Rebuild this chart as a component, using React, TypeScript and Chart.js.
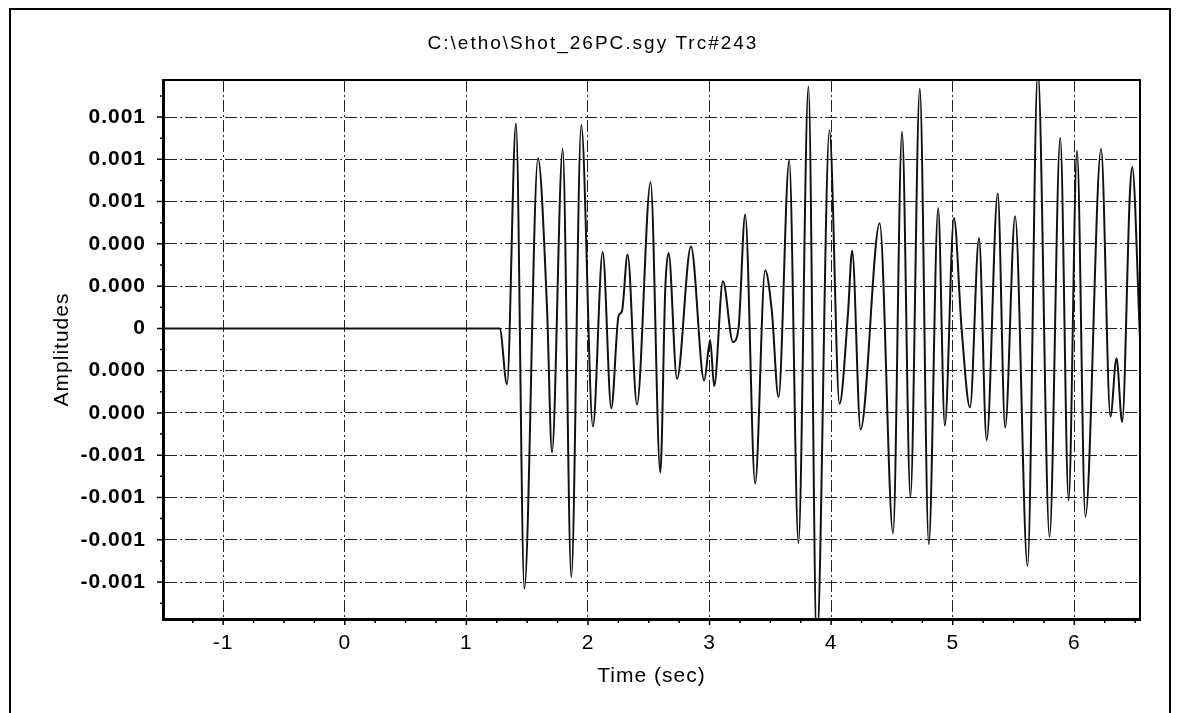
import React, { useEffect, useRef } from 'react';
import { Chart, registerables } from 'chart.js';

Chart.register(...registerables);

const chartTitle = 'C:\\etho\\Shot_26PC.sgy Trc#243';
const xAxisTitle = 'Time (sec)';
const yAxisTitle = 'Amplitudes';

const timeSec = [
  -1.495, 1.274, 1.334, 1.408, 1.477, 1.589, 1.663, 1.704, 1.792, 1.863,
  1.945, 2.041, 2.121, 2.192, 2.252, 2.279, 2.326, 2.403, 2.515, 2.595,
  2.636, 2.663, 2.732, 2.847, 2.956, 3.005, 3.038, 3.11, 3.192, 3.238,
  3.293, 3.375, 3.457, 3.512, 3.567, 3.655, 3.731, 3.813, 3.882, 3.986,
  4.069, 4.138, 4.173, 4.242, 4.399, 4.509, 4.583, 4.652, 4.729, 4.803,
  4.88, 4.935, 5.01, 5.073, 5.142, 5.216, 5.279, 5.37, 5.431, 5.513,
  5.615, 5.7, 5.796, 5.884, 5.953, 6.022, 6.091, 6.22, 6.297, 6.347,
  6.393, 6.457, 6.476, 6.54,
];

const amplitudes = [
  0, 0, -0.000264, 0.00097, -0.00123, 0.000805, 0.0001, -0.000586, 0.000849, -0.001177,
  0.000962, -0.000464, 0.000362, -0.000377, 0.00006, 0.00008, 0.00035, -0.00036, 0.000692, -0.000682,
  0.00019, 0.000357, -0.000238, 0.000388, -0.000247, -0.000056, -0.000273, 0.000223, -0.000064, 0.0,
  0.000539, -0.000734, 0.000275, 0.000083, -0.000325, 0.000795, -0.001015, 0.001143, -0.0015, 0.000936,
  -0.000357, 0.000066, 0.000367, -0.000478, 0.000497, -0.000969, 0.000931, -0.000797, 0.001134, -0.001021,
  0.000569, -0.00046, 0.000522, -0.000003, -0.000374, 0.000428, -0.000529, 0.000638, -0.000469, 0.000531,
  -0.001124, 0.00122, -0.000986, 0.000902, -0.000814, 0.000841, -0.000891, 0.00085, -0.000417, -0.000141,
  -0.000443, 0.00064, 0.000764, -0.00005,
];

const xTickValues = [-1, 0, 1, 2, 3, 4, 5, 6];
const xTickLabels = ['-1', '0', '1', '2', '3', '4', '5', '6'];
const yTickValues = [0.001, 0.0008, 0.0006, 0.0004, 0.0002, 0, -0.0002, -0.0004, -0.0006, -0.0008, -0.001, -0.0012];
const yTickLabels = ['0.001', '0.001', '0.001', '0.000', '0.000', '0', '0.000', '0.000', '-0.001', '-0.001', '-0.001', '-0.001'];

const xMin = -1.495;
const xMax = 6.54;
const yMin = -0.001375;
const yMax = 0.0011754;

const FONT = '"Liberation Sans", Arial, sans-serif';

const framePlugin = {
  id: 'framePlugin',
  beforeDraw(chart: any) {
    const ctx = chart.ctx;
    ctx.save();
    ctx.fillStyle = '#ffffff';
    ctx.fillRect(0, 0, chart.width, chart.height);
    ctx.restore();
    ctx.letterSpacing = '1px';
  },
  afterDraw(chart: any) {
    const ctx = chart.ctx;
    const { left, right, top, bottom } = chart.chartArea;
    const xs = chart.scales.x;
    const ys = chart.scales.y;
    ctx.save();
    ctx.letterSpacing = '0px';
    ctx.strokeStyle = '#000';
    // top & right plot border
    ctx.lineWidth = 2;
    ctx.beginPath();
    ctx.moveTo(left, top);
    ctx.lineTo(right, top);
    ctx.lineTo(right, bottom);
    ctx.stroke();
    // outer frame
    ctx.lineWidth = 2;
    ctx.beginPath();
    ctx.moveTo(10, chart.height);
    ctx.lineTo(10, 9);
    ctx.lineTo(1170, 9);
    ctx.lineTo(1170, chart.height);
    ctx.stroke();
    // x ticks (major + minor)
    ctx.lineWidth = 1.5;
    ctx.beginPath();
    for (let v = Math.ceil(xMin * 4) / 4; v <= xMax; v += 0.25) {
      const px = xs.getPixelForValue(v);
      const len = Math.abs(v - Math.round(v)) < 1e-6 ? 6 : 4;
      ctx.moveTo(px, bottom);
      ctx.lineTo(px, bottom + len);
    }
    // y ticks (major + minor)
    for (let k = -14; k <= 12; k++) {
      const v = k * 0.0001;
      if (v < yMin || v > yMax) continue;
      const py = ys.getPixelForValue(v);
      const len = k % 2 === 0 ? 6 : 3;
      ctx.moveTo(left, py);
      ctx.lineTo(left - len, py);
    }
    ctx.stroke();
    // main title
    ctx.letterSpacing = '2px';
    ctx.fillStyle = '#000';
    ctx.font = `19px ${FONT}`;
    ctx.textAlign = 'center';
    ctx.textBaseline = 'middle';
    ctx.fillText(chartTitle, 593, 44);
    ctx.restore();
    ctx.letterSpacing = '0px';
  },
};

export default function App() {
  const canvasRef = useRef<HTMLCanvasElement | null>(null);

  useEffect(() => {
    if (!canvasRef.current) return;
    const points = timeSec.map((t, i) => ({ x: t, y: amplitudes[i] }));
    const dashFn = () => [12, 3, 2, 3];
    const chart = new Chart(canvasRef.current, {
      type: 'line',
      data: {
        datasets: [
          {
            data: points,
            borderColor: '#111111',
            borderWidth: 2,
            pointRadius: 0,
            cubicInterpolationMode: 'monotone',
            fill: false,
          },
        ],
      },
      options: {
        animation: false,
        responsive: false,
        devicePixelRatio: 1,
        layout: { padding: { left: 50, right: 38, top: 80, bottom: 24 } },
        plugins: {
          legend: { display: false },
          title: { display: false },
          tooltip: { enabled: false },
        },
        scales: {
          x: {
            type: 'linear',
            min: xMin,
            max: xMax,
            afterFit: (scale: any) => {
              scale.height = 70;
            },
            afterBuildTicks: (scale: any) => {
              scale.ticks = xTickValues.map((v) => ({ value: v }));
            },
            grid: {
              color: '#222222',
              lineWidth: 1,
              drawTicks: false,
            },
            border: { display: true, color: '#000', width: 3, dash: dashFn },
            ticks: {
              padding: 12,
              color: '#000',
              font: { family: FONT, size: 21 },
              maxRotation: 0,
              autoSkip: false,
              callback: (_v: any, i: number) => xTickLabels[i],
            },
            title: {
              display: true,
              text: xAxisTitle,
              color: '#000',
              font: { family: FONT, size: 21 },
              padding: { top: 0, bottom: 0 },
            },
          },
          y: {
            type: 'linear',
            min: yMin,
            max: yMax,
            afterFit: (scale: any) => {
              scale.width = 113;
            },
            afterBuildTicks: (scale: any) => {
              scale.ticks = yTickValues.map((v) => ({ value: v }));
            },
            grid: {
              color: '#222222',
              lineWidth: 1,
              drawTicks: false,
            },
            border: { display: true, color: '#000', width: 3, dash: dashFn },
            ticks: {
              padding: 17,
              color: '#000',
              font: { family: FONT, size: 21, weight: 'bold' },
              autoSkip: false,
              callback: (_v: any, i: number) => yTickLabels[i],
            },
            title: {
              display: true,
              text: yAxisTitle,
              color: '#000',
              font: { family: FONT, size: 21 },
              padding: { top: 0, bottom: 0 },
            },
          },
        },
      } as any,
      plugins: [framePlugin],
    });
    return () => chart.destroy();
  }, []);

  return (
    <div style={{ position: 'absolute', left: 0, top: 0, width: 1178, height: 713 }}>
      <canvas ref={canvasRef} width={1178} height={713} style={{ display: 'block' }} />
    </div>
  );
}
